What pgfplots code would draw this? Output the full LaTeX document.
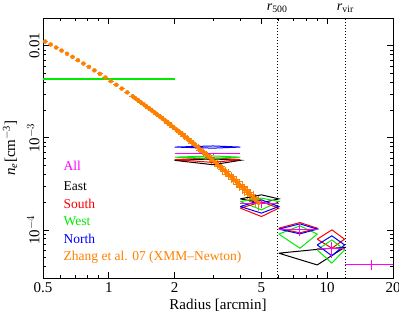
\documentclass[border=0pt]{standalone}
\usepackage{fontspec}
\setmainfont{Liberation Serif}
\usepackage{pgfplots}
\pgfplotsset{compat=1.18}
\usepackage{pgfplotstable}

\definecolor{myorange}{RGB}{255,128,0}
\definecolor{mygreen}{RGB}{0,235,0}
\definecolor{mymagenta}{RGB}{255,0,255}
\definecolor{myblue}{RGB}{0,0,255}
\definecolor{myred}{RGB}{255,0,0}

\pgfplotstableread{
x y ex ey
0.5116 0.011100 0.026 0.030
0.5418 0.010310 0.026 0.030
0.5741 0.009560 0.026 0.030
0.6082 0.008851 0.026 0.030
0.6442 0.008182 0.026 0.030
0.6825 0.007553 0.026 0.030
0.7230 0.006963 0.026 0.030
0.7659 0.006405 0.026 0.030
0.8114 0.005884 0.027 0.031
0.8596 0.005398 0.028 0.032
0.9106 0.004943 0.029 0.033
0.9647 0.004520 0.030 0.035
1.0220 0.004127 0.031 0.037
1.0826 0.003762 0.032 0.039
1.1469 0.003424 0.033 0.041
1.2150 0.003112 0.034 0.043
1.2872 0.002825 0.035 0.045
1.3228 0.002689 0.035 0.046
1.3636 0.002559 0.036 0.048
1.4012 0.002434 0.036 0.050
1.4445 0.002314 0.037 0.051
1.4842 0.002200 0.037 0.053
1.5303 0.002090 0.038 0.054
1.5722 0.001986 0.038 0.056
1.6212 0.001885 0.039 0.057
1.6653 0.001789 0.039 0.059
1.7174 0.001698 0.040 0.060
1.7638 0.001610 0.040 0.062
1.8194 0.001527 0.041 0.064
1.8686 0.001446 0.041 0.066
1.9274 0.001370 0.042 0.068
1.9791 0.001297 0.042 0.070
2.0418 0.001228 0.043 0.072
2.0966 0.001162 0.043 0.075
2.1631 0.001099 0.044 0.077
2.2207 0.001039 0.044 0.080
2.2915 0.0009819 0.045 0.082
2.3522 0.0009274 0.045 0.085
2.4275 0.0008759 0.046 0.087
2.4915 0.0008268 0.046 0.090
2.5717 0.0007801 0.047 0.093
2.6391 0.0007357 0.047 0.096
2.7244 0.0006937 0.048 0.099
2.7954 0.0006539 0.048 0.102
2.8861 0.0006161 0.049 0.105
2.9612 0.0005801 0.049 0.108
3.0575 0.0005461 0.050 0.112
3.1367 0.0005138 0.050 0.115
3.2390 0.0004834 0.051 0.119
3.3226 0.0004546 0.051 0.123
3.4314 0.0004272 0.052 0.127
3.5193 0.0004015 0.052 0.131
3.6351 0.0003772 0.053 0.135
3.7280 0.0003540 0.053 0.139
3.8509 0.0003323 0.054 0.143
3.9489 0.0003117 0.054 0.147
4.0795 0.0002923 0.055 0.152
4.1828 0.0002740 0.055 0.156
4.3217 0.0002567 0.056 0.161
4.4307 0.0002405 0.056 0.165
4.5783 0.0002252 0.057 0.170
4.6932 0.0002108 0.057 0.175
4.8502 0.0001972 0.058 0.180
}\zhang

\begin{document}
\begin{tikzpicture}
\begin{axis}[
  name=ax,
  scale only axis,
  width=350pt, height=260pt,
  xmode=log, ymode=log,
  xmin=0.5, xmax=20, ymin=3e-5, ymax=0.02,
  clip=false,
  xtick={0.5,1,2,5,10,20},
  xticklabels={0.5,1,2,5,10,20},
  minor xtick={0.6,0.7,0.8,0.9,3,4,6,7,8,9},
  ytick={1e-4,1e-3,1e-2},
  yticklabels={10$^{-4}$,10$^{-3}$,0.01},
  minor ytick={4e-5,5e-5,6e-5,7e-5,8e-5,9e-5,2e-4,3e-4,4e-4,5e-4,6e-4,7e-4,8e-4,9e-4,2e-3,3e-3,4e-3,5e-3,6e-3,7e-3,8e-3,9e-3},
  tick align=inside,
  major tick length=6pt,
  minor tick length=3.5pt,
  axis line style={line width=0.8pt},
  every tick/.style={black, line width=0.7pt},
  tick label style={font=\fontsize{15}{18}\selectfont},
  xticklabel style={anchor=north, yshift=-1pt},
  yticklabel style={rotate=90, anchor=south},
]

% Zhang et al. 07
\addplot[myorange, only marks, mark=none,
  error bars/.cd, x dir=both, x explicit relative, y dir=both, y explicit relative,
  error mark=none, error bar style={line width=1.1pt, solid}]
  table[x=x, y=y, x error=ex, y error=ey] {\zhang};

% bin 1 (0.5-2)
\addplot[mymagenta, line width=1.6pt] coordinates {(0.5,4.35e-3) (2,4.35e-3)};
\addplot[black, line width=1.6pt] coordinates {(0.5,4.35e-3) (2,4.35e-3)};
\addplot[myred, line width=1.6pt] coordinates {(0.5,4.35e-3) (2,4.35e-3)};
\addplot[myblue, line width=1.6pt] coordinates {(0.5,4.35e-3) (2,4.35e-3)};
\addplot[mygreen, line width=1.6pt] coordinates {(0.5,4.35e-3) (2,4.35e-3)};

% bin 2 (2-4)
\addplot[black, line width=1pt] coordinates {(2,5.69e-4) (3,5.9e-4) (4,5.69e-4) (3,5.1e-4) (2,5.69e-4)};
\addplot[myred, line width=1pt] coordinates {(2,5.8e-4) (3,6.05e-4) (4,5.8e-4) (3,5.4e-4) (2,5.8e-4)};
\addplot[mygreen, line width=1pt] coordinates {(2,6.16e-4) (3,6.35e-4) (4,6.16e-4) (3,5.97e-4) (2,6.16e-4)};
\addplot[myblue, line width=1pt] coordinates {(2,7.93e-4) (3,8.15e-4) (4,7.93e-4) (3,7.72e-4) (2,7.93e-4)};
\addplot[mymagenta, line width=1pt] coordinates {(2,6.70e-4) (4,6.70e-4)};
\addplot[mymagenta, line width=1pt] coordinates {(3,6.9e-4) (3,6.5e-4)};

% bin 3 (4-6)
\addplot[black, line width=1pt] coordinates {(4,2.17e-4) (5,2.40e-4) (6,2.17e-4) (5,1.966e-4) (4,2.17e-4)};
\addplot[mygreen, line width=1pt] coordinates {(4,2.03e-4) (5,2.212e-4) (6,2.03e-4) (5,1.650e-4) (4,2.03e-4)};
\addplot[myred, line width=1pt] coordinates {(4,1.722e-4) (5,2.015e-4) (6,1.722e-4) (5,1.395e-4) (4,1.722e-4)};
\addplot[myblue, line width=1pt] coordinates {(4,1.792e-4) (5,2.119e-4) (6,1.792e-4) (5,1.519e-4) (4,1.792e-4)};
\addplot[mymagenta, line width=1pt] coordinates {(4,1.917e-4) (6,1.917e-4)};
\addplot[mymagenta, line width=1pt] coordinates {(5,2.119e-4) (5,1.734e-4)};

% black bin (6-12)
\addplot[black, line width=1pt] coordinates {(6,5.58e-5) (9,6.14e-5) (12,6.45e-5) (9,4.16e-5) (6,5.58e-5)};

% bin 4 (6-9)
\addplot[mygreen, line width=1pt] coordinates {(6,9.0e-5) (7.5,1.105e-4) (9,9.0e-5) (7.5,6.32e-5) (6,9.0e-5)};
\addplot[myred, line width=1pt] coordinates {(6,1.043e-4) (7.5,1.200e-4) (9,1.043e-4) (7.5,9.28e-5) (6,1.043e-4)};
\addplot[myblue, line width=1pt] coordinates {(6,1.018e-4) (7.5,1.162e-4) (9,1.018e-4) (7.5,9.05e-5) (6,1.018e-4)};
\addplot[mymagenta, line width=1pt] coordinates {(6,1.018e-4) (9,1.018e-4)};
\addplot[mymagenta, line width=1pt] coordinates {(7.5,1.162e-4) (7.5,8.61e-5)};

% bin 5 (9-12)
\addplot[myred, line width=1pt] coordinates {(9,7.92e-5) (10.5,1.0e-4) (12,7.92e-5) (10.5,6.32e-5) (9,7.92e-5)};
\addplot[mygreen, line width=1pt] coordinates {(9,6.06e-5) (10.5,7.78e-5) (12,6.06e-5) (10.5,4.35e-5) (9,6.06e-5)};
\addplot[myblue, line width=1pt] coordinates {(9,6.87e-5) (10.5,8.61e-5) (12,6.87e-5) (10.5,5.22e-5) (9,6.87e-5)};
\addplot[mymagenta, line width=1pt] coordinates {(9,6.32e-5) (12,6.32e-5)};
\addplot[mymagenta, line width=1pt] coordinates {(10.5,7.46e-5) (10.5,4.92e-5)};

% bin 6 (12-20)
\addplot[mymagenta, line width=1pt] coordinates {(12,4.24e-5) (20,4.24e-5)};
\addplot[mymagenta, line width=1pt] coordinates {(16,4.72e-5) (16,3.67e-5)};

% r500 and rvir
\addplot[black, dotted, line width=1pt] coordinates {(5.9,3e-5) (5.9,0.02)};
\addplot[black, dotted, line width=1pt] coordinates {(12.1,3e-5) (12.1,0.02)};
\node[anchor=base, yshift=8pt, font=\fontsize{14}{16}\selectfont] at (axis cs:5.9,0.02) {\textit{r}\textsubscript{500}};
\node[anchor=base, yshift=8pt, font=\fontsize{14}{16}\selectfont] at (axis cs:12.1,0.02) {\textit{r}\textsubscript{vir}};

% labels
\node[font=\fontsize{15}{18}\selectfont] at (axis description cs:0.5,-0.104) {Radius [arcmin]};
\node[rotate=90, font=\fontsize{15}{18}\selectfont] at (axis description cs:-0.094,0.5) {\textit{n}\textsubscript{\textit{e}}[cm\textsuperscript{$-$3}]};

% legend
\node[anchor=west, text=mymagenta, font=\fontsize{13.5}{16}\selectfont] at (axis description cs:0.049,0.431) {All};
\node[anchor=west, text=black, font=\fontsize{13.5}{16}\selectfont] at (axis description cs:0.049,0.354) {East};
\node[anchor=west, text=myred, font=\fontsize{13.5}{16}\selectfont] at (axis description cs:0.049,0.285) {South};
\node[anchor=west, text=mygreen, font=\fontsize{13.5}{16}\selectfont] at (axis description cs:0.049,0.217) {West};
\node[anchor=west, text=myblue, font=\fontsize{13.5}{16}\selectfont] at (axis description cs:0.049,0.150) {North};
\node[anchor=west, text=myorange, font=\fontsize{13.5}{16}\selectfont] at (axis description cs:0.049,0.078) {Zhang et al. 07 (XMM--Newton)};
\end{axis}
\pgfresetboundingbox
\path ([xshift=-43pt,yshift=-34pt]ax.south west) rectangle ([xshift=6pt,yshift=18pt]ax.north east);
\end{tikzpicture}
\end{document}
